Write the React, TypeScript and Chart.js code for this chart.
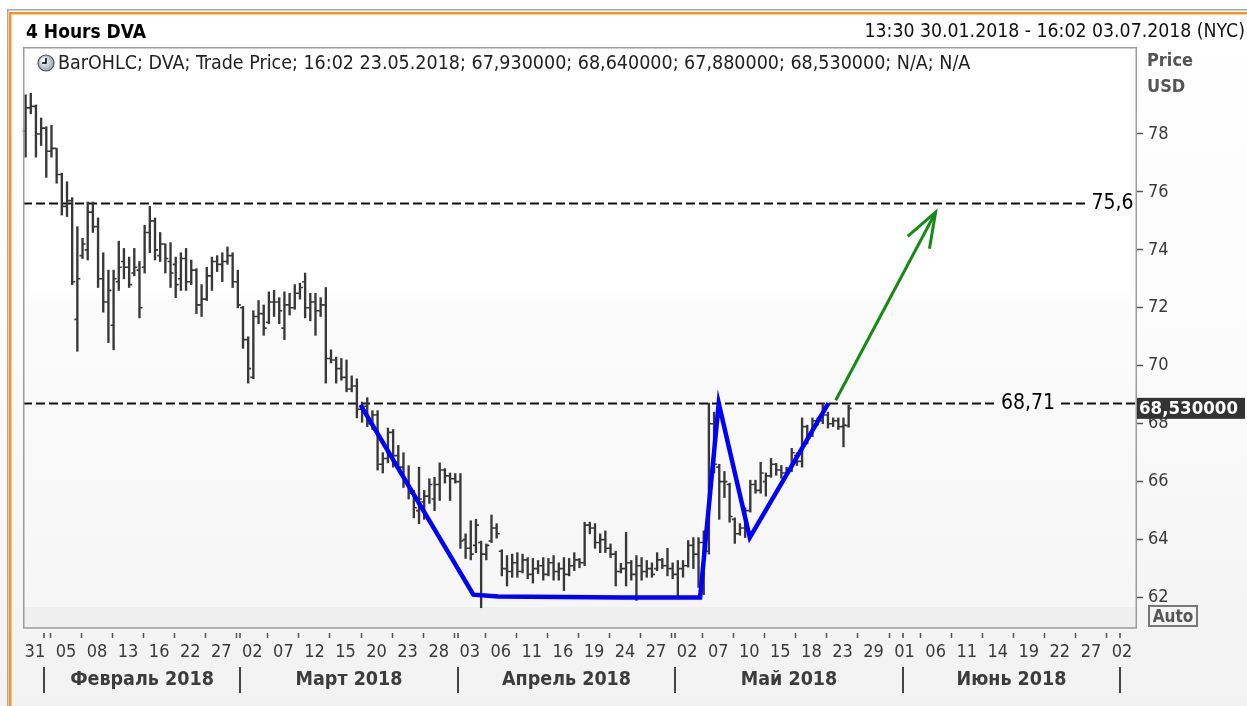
import React, { useEffect, useRef } from "react";
import { Chart, registerables } from "chart.js";

Chart.register(...registerables);

const FONT = '"DejaVu Sans Condensed", "DejaVu Sans", sans-serif';

// ---------- data ----------
const tradingDays = [
  "30.01.2018", "31.01.2018",
  "01.02.2018", "02.02.2018", "05.02.2018", "06.02.2018", "07.02.2018", "08.02.2018", "09.02.2018",
  "12.02.2018", "13.02.2018", "14.02.2018", "15.02.2018", "16.02.2018", "20.02.2018", "21.02.2018",
  "22.02.2018", "23.02.2018", "26.02.2018", "27.02.2018", "28.02.2018",
  "01.03.2018", "02.03.2018", "05.03.2018", "06.03.2018", "07.03.2018", "08.03.2018", "09.03.2018",
  "12.03.2018", "13.03.2018", "14.03.2018", "15.03.2018", "16.03.2018", "19.03.2018", "20.03.2018",
  "21.03.2018", "22.03.2018", "23.03.2018", "26.03.2018", "27.03.2018", "28.03.2018", "29.03.2018",
  "02.04.2018", "03.04.2018", "04.04.2018", "05.04.2018", "06.04.2018", "09.04.2018", "10.04.2018",
  "11.04.2018", "12.04.2018", "13.04.2018", "16.04.2018", "17.04.2018", "18.04.2018", "19.04.2018",
  "20.04.2018", "23.04.2018", "24.04.2018", "25.04.2018", "26.04.2018", "27.04.2018", "30.04.2018",
  "01.05.2018", "02.05.2018", "03.05.2018", "04.05.2018", "07.05.2018", "08.05.2018", "09.05.2018",
  "10.05.2018", "11.05.2018", "14.05.2018", "15.05.2018", "16.05.2018", "17.05.2018", "18.05.2018",
  "21.05.2018", "22.05.2018", "23.05.2018", "24.05.2018", "25.05.2018", "29.05.2018", "30.05.2018",
  "31.05.2018",
  "01.06.2018", "04.06.2018", "05.06.2018", "06.06.2018", "07.06.2018", "08.06.2018", "11.06.2018",
  "12.06.2018", "13.06.2018", "14.06.2018", "15.06.2018", "18.06.2018", "19.06.2018", "20.06.2018",
  "21.06.2018", "22.06.2018", "25.06.2018", "26.06.2018", "27.06.2018", "28.06.2018", "29.06.2018",
  "02.07.2018", "03.07.2018",
];
const sessionEnds = ["13:30", "16:02"];

const barOpen = [
  78.1, 78.9, 78.95, 78.0, 78.2, 77.4, 77.5, 76.6, 75.5, 75.7,
  71.6, 73.8, 74.0, 75.3, 74.8, 73.0, 72.2, 71.4, 72.9, 73.6,
  73.4, 73.2, 73.3, 73.4, 74.6, 75.0, 73.8, 74.2, 73.6, 73.5,
  73.0, 73.7, 72.9, 73.3, 72.1, 72.3, 73.1, 73.6, 73.5, 73.6,
  73.8, 72.9, 72.0, 70.9, 69.6, 71.7, 71.8, 71.5, 72.2, 72.2,
  71.3, 72.1, 72.0, 72.5, 72.9, 72.0, 72.2, 71.9, 72.1, 70.25,
  70.2, 69.9, 69.6, 69.2, 69.3, 68.5, 68.6, 68.0, 68.3, 66.6,
  66.8, 67.7, 66.9, 66.5, 66.0, 65.6, 65.0, 65.3, 65.5, 65.4,
  65.9, 66.4, 66.2, 66.1, 66.0, 64.0, 63.7, 63.8, 63.9, 63.5,
  63.95, 64.4, 63.6, 63.0, 62.9, 63.2, 62.9, 63.3, 62.8, 63.0,
  63.1, 62.8, 63.2, 62.9, 63.0, 62.8, 63.1, 63.3, 63.2, 64.5,
  64.4, 63.9, 64.0, 63.7, 63.5, 62.9, 63.0, 63.2, 62.8, 63.1,
  62.9, 63.0, 63.0, 63.3, 63.1, 63.0, 62.8, 63.0, 63.1, 63.8,
  63.5, 63.9, 63.6, 68.0, 66.5, 66.0, 65.9, 64.7, 64.2, 64.4,
  65.0, 65.9, 65.7, 66.0, 66.2, 66.6, 66.4, 66.3, 66.4, 66.9,
  66.7, 67.9, 67.6, 68.1, 68.1, 68.3, 68.0, 68.1, 67.9, 67.93,
];
const barHigh = [
  79.35, 79.4, 79.0, 78.55, 78.25, 78.3, 77.5, 76.65, 76.35, 75.8,
  74.8, 74.4, 75.65, 75.65, 75.1, 73.9, 73.3, 73.3, 74.3, 74.05,
  73.75, 74.05, 73.6, 74.85, 75.5, 75.1, 74.6, 74.2, 74.25, 73.75,
  73.9, 74.05, 73.65, 73.35, 72.8, 73.4, 73.75, 73.8, 73.9, 74.1,
  73.9, 73.3, 72.05, 71.0, 71.9, 72.25, 72.1, 72.55, 72.6, 72.35,
  72.55, 72.5, 72.8, 72.85, 73.2, 72.5, 72.5, 72.35, 72.7, 70.55,
  70.3, 70.25, 70.2, 69.65, 69.55, 68.75, 68.9, 68.45, 68.45, 67.0,
  67.85, 67.8, 67.25, 67.0, 66.55, 65.7, 66.5, 65.7, 66.1, 66.15,
  66.65, 66.45, 66.3, 66.28, 66.28, 64.2, 64.65, 64.7, 63.95, 63.85,
  64.85, 64.55, 63.65, 63.45, 63.5, 63.55, 63.5, 63.38, 63.35, 63.28,
  63.38, 63.35, 63.45, 63.2, 63.38, 63.35, 63.55, 63.35, 64.6, 64.6,
  64.55, 64.2, 64.3, 63.85, 63.6, 63.18, 64.25, 63.28, 63.45, 63.38,
  63.28, 63.2, 63.55, 63.35, 63.7, 63.2, 63.28, 63.28, 63.97, 64.07,
  64.07, 64.3, 68.71, 68.4, 66.6, 66.35, 65.95, 64.75, 64.55, 65.1,
  66.05, 66.05, 66.67, 66.3, 66.8, 66.63, 66.56, 66.5, 67.15, 67.0,
  68.2, 67.95, 68.2, 68.2, 68.7, 68.4, 68.2, 68.2, 68.2, 68.64,
];
const barLow = [
  77.2, 78.7, 77.2, 77.6, 76.5, 77.2, 76.3, 75.2, 75.15, 72.8,
  70.5, 73.7, 73.65, 74.6, 72.7, 71.85, 70.8, 70.55, 72.6, 73.0,
  72.7, 73.1, 71.65, 73.2, 73.9, 73.65, 73.6, 73.2, 72.7, 72.35,
  72.6, 72.6, 72.8, 71.8, 71.7, 72.25, 72.6, 73.25, 72.9, 73.5,
  72.7, 72.0, 70.6, 69.4, 69.55, 71.45, 71.05, 71.45, 71.7, 71.45,
  70.9, 71.75, 71.95, 72.3, 71.65, 71.55, 71.05, 71.7, 69.4, 70.1,
  69.4, 69.5, 69.1, 69.1, 68.2, 68.05, 67.9, 67.8, 66.4, 66.3,
  66.65, 66.5, 66.4, 65.8, 65.4, 64.75, 64.55, 64.7, 65.25, 65.0,
  65.35, 65.95, 65.35, 65.95, 63.7, 63.35, 63.3, 63.55, 61.65, 63.3,
  63.9, 64.05, 62.75, 62.4, 62.7, 62.7, 62.85, 62.65, 62.5, 62.83,
  62.6, 62.75, 62.6, 62.6, 62.24, 62.75, 62.93, 63.03, 63.1, 64.2,
  63.7, 63.55, 63.55, 63.38, 62.4, 62.85, 62.4, 62.6, 61.9, 62.6,
  62.7, 62.7, 62.93, 63.0, 62.75, 62.65, 61.97, 62.7, 63.05, 63.0,
  62.35, 62.1, 63.5, 66.3, 64.7, 65.45, 64.6, 63.87, 64.15, 64.07,
  64.95, 65.6, 65.6, 65.5, 66.15, 66.22, 66.12, 66.22, 66.35, 66.56,
  66.5, 67.3, 67.55, 67.95, 68.0, 67.85, 67.9, 67.8, 67.2, 67.88,
];
const barClose = [
  78.9, 78.95, 78.0, 78.2, 77.4, 77.5, 76.6, 75.5, 75.7, 72.9,
  73.0, 74.2, 75.3, 74.8, 73.0, 72.2, 72.6, 73.0, 73.4, 73.4,
  72.8, 73.4, 72.0, 74.6, 75.0, 74.0, 74.2, 73.7, 73.2, 72.8,
  73.7, 72.9, 73.3, 72.1, 72.3, 73.1, 73.6, 73.5, 73.6, 73.8,
  72.9, 72.1, 70.9, 69.9, 71.7, 71.8, 71.3, 72.2, 72.2, 71.9,
  72.1, 72.0, 72.5, 72.7, 72.0, 72.2, 71.9, 72.1, 70.25, 70.2,
  69.9, 69.6, 69.2, 69.3, 68.5, 68.6, 68.0, 68.3, 66.6, 66.8,
  67.7, 66.9, 66.5, 66.0, 65.6, 65.1, 65.4, 65.5, 65.9, 65.9,
  66.4, 66.2, 66.1, 66.0, 63.95, 63.7, 63.5, 64.5, 63.5, 63.8,
  64.4, 64.2, 63.0, 62.9, 63.2, 62.9, 63.3, 62.8, 63.0, 63.1,
  62.8, 63.2, 62.9, 63.0, 62.8, 63.1, 63.3, 63.2, 64.5, 64.4,
  63.9, 64.0, 63.7, 63.5, 62.9, 63.0, 63.2, 62.8, 63.1, 62.9,
  63.0, 62.8, 63.3, 63.1, 63.0, 62.8, 63.0, 63.1, 63.8, 63.5,
  63.9, 63.6, 68.0, 66.6, 66.0, 66.0, 64.8, 64.2, 64.4, 65.0,
  65.9, 65.7, 66.3, 66.2, 66.6, 66.4, 66.3, 66.4, 67.0, 66.7,
  67.9, 67.5, 68.1, 68.1, 68.3, 68.0, 68.1, 67.9, 67.95, 68.53,
];

const xTickDates = [
  "31.01.2018", "05.02.2018", "08.02.2018", "13.02.2018", "16.02.2018", "22.02.2018", "27.02.2018",
  "02.03.2018", "07.03.2018", "12.03.2018", "15.03.2018", "20.03.2018", "23.03.2018", "28.03.2018",
  "03.04.2018", "06.04.2018", "11.04.2018", "16.04.2018", "19.04.2018", "24.04.2018", "27.04.2018",
  "02.05.2018", "07.05.2018", "10.05.2018", "15.05.2018", "18.05.2018", "23.05.2018", "29.05.2018",
  "01.06.2018", "06.06.2018", "11.06.2018", "14.06.2018", "19.06.2018", "22.06.2018", "27.06.2018",
  "02.07.2018",
];
const monthNames = ["Февраль 2018", "Март 2018", "Апрель 2018", "Май 2018", "Июнь 2018"];
const monthStarts = ["01.02.2018", "01.03.2018", "02.04.2018", "01.05.2018", "01.06.2018", "02.07.2018"];
const yTicks = [62, 64, 66, 68, 70, 72, 74, 76, 78];

const levelPrices = [75.6, 68.71];
// pattern polyline (trading-day position, price)
const patternDays = [32.6, 43.5, 45.9, 57.9, 65.4, 67.2, 70.2, 77.8];
const patternPrices = [68.65, 62.1, 62.04, 62.0, 62.0, 68.71, 64.07, 68.71];
// target arrow
const targetDays = [78.5, 88.15];
const targetPrices = [68.81, 75.3];

// ---------- style / layout ----------
const SESSION_POS = [0.25, 0.75];
const LEVEL_LABEL_AT = [105.24, 97.07];
const X_MIN = 0;
const X_MAX = 107.6;
const Y_MIN = 60.95;
const Y_MAX = 81.0;

const dayIdx = (d: string) => tradingDays.indexOf(d);
const barX = (k: number) => Math.floor(k / 2) + SESSION_POS[k % 2];
const fmt6 = (v: number) => v.toFixed(6).replace(".", ",");
const last = barClose.length - 1;

const decoPlugin = {
  id: "deco",
  beforeDraw(chart: any) {
    const { ctx, chartArea: a, width, height } = chart;
    ctx.save();
    let g = ctx.createLinearGradient(0, 0, 0, height);
    g.addColorStop(0, "#ffffff");
    g.addColorStop(0.45, "#fcfcfc");
    g.addColorStop(1, "#f2f2f2");
    ctx.fillStyle = g;
    ctx.fillRect(0, 0, width, height);
    ctx.fillStyle = "#ffffff";
    ctx.fillRect(0, 0, width, a.top);
    // outer frame
    ctx.fillStyle = "#a8a8a8";
    ctx.fillRect(7, 9, width - 7, 1.5);
    ctx.fillRect(7, 9, 1.5, height - 9);
    ctx.fillStyle = "#f7931e";
    ctx.fillRect(9, 12, width - 9, 2.5);
    ctx.fillRect(9, 12, 2.5, height - 12);
    // plot background
    g = ctx.createLinearGradient(0, a.top, 0, a.bottom);
    g.addColorStop(0, "#ffffff");
    g.addColorStop(0.42, "#ffffff");
    g.addColorStop(0.44, "#fbfbfb");
    g.addColorStop(1, "#f6f6f6");
    ctx.fillStyle = g;
    ctx.fillRect(a.left, a.top, a.right - a.left, a.bottom - a.top);
    ctx.fillStyle = "#efefef";
    ctx.fillRect(a.left, a.bottom - 21, a.right - a.left, 21);
    ctx.restore();
  },
  beforeDatasetsDraw(chart: any) {
    const { ctx, chartArea: a, scales } = chart;
    const xs = scales.x, ys = scales.y;
    ctx.save();
    ctx.font = `21px ${FONT}`;
    ctx.textBaseline = "middle";
    ctx.textAlign = "center";
    levelPrices.forEach((p, i) => {
      const y = Math.round(ys.getPixelForValue(p)) + 0.5;
      const label = String(p).replace(".", ",");
      const w = ctx.measureText(label).width;
      const cx = xs.getPixelForValue(LEVEL_LABEL_AT[i]);
      const x0 = cx - w / 2 - 6;
      const x1 = cx + w / 2 + 6;
      ctx.strokeStyle = "#111";
      ctx.lineWidth = 2;
      ctx.setLineDash([9, 4]);
      ctx.beginPath();
      ctx.moveTo(a.left, y);
      ctx.lineTo(x0, y);
      if (x1 < a.right) {
        ctx.moveTo(x1, y);
        ctx.lineTo(a.right, y);
      }
      ctx.stroke();
      ctx.setLineDash([]);
      ctx.fillStyle = "#000";
      ctx.fillText(label, cx, y);
    });
    ctx.restore();
  },
  afterDatasetDraw(chart: any, args: any) {
    if (args.index !== 0) return;
    const { ctx, scales } = chart;
    const xs = scales.x, ys = scales.y;
    ctx.save();
    ctx.strokeStyle = "#383838";
    ctx.lineWidth = 1.6;
    ctx.beginPath();
    for (let k = 0; k < barOpen.length; k++) {
      const px = xs.getPixelForValue(barX(k));
      const po = ys.getPixelForValue(barOpen[k]);
      const pc = ys.getPixelForValue(barClose[k]);
      ctx.moveTo(px - 3, po);
      ctx.lineTo(px, po);
      ctx.moveTo(px, pc);
      ctx.lineTo(px + 3, pc);
    }
    ctx.stroke();
    ctx.restore();
  },
  afterDatasetsDraw(chart: any) {
    const { ctx, chartArea: a, scales, width } = chart;
    const xs = scales.x, ys = scales.y;
    ctx.save();
    // arrow head
    const tx = xs.getPixelForValue(targetDays[1]);
    const ty = ys.getPixelForValue(targetPrices[1]);
    const sx = xs.getPixelForValue(targetDays[0]);
    const sy = ys.getPixelForValue(targetPrices[0]);
    const ang = Math.atan2(sy - ty, sx - tx);
    const L = 37;
    ctx.strokeStyle = "#168a16";
    ctx.lineWidth = 3;
    ctx.lineJoin = "miter";
    ctx.beginPath();
    ctx.moveTo(tx + L * Math.cos(ang + 0.37), ty + L * Math.sin(ang + 0.37));
    ctx.lineTo(tx, ty);
    ctx.lineTo(tx + L * Math.cos(ang - 0.32), ty + L * Math.sin(ang - 0.32));
    ctx.stroke();

    // plot border
    ctx.strokeStyle = "#9c9c9c";
    ctx.lineWidth = 1.5;
    ctx.strokeRect(a.left + 0.75, a.top + 0.75, a.right - a.left - 1.5, a.bottom - a.top - 0.75);

    // month row
    ctx.fillStyle = "#3c3c3c";
    ctx.strokeStyle = "#444";
    ctx.font = `bold 19.5px ${FONT}`;
    ctx.textAlign = "center";
    ctx.textBaseline = "middle";
    const bx = monthStarts.map((d) => Math.round(xs.getPixelForValue(dayIdx(d))));
    bx.forEach((x) => {
      ctx.lineWidth = 2;
      ctx.beginPath();
      ctx.moveTo(x, 667);
      ctx.lineTo(x, 693);
      ctx.stroke();
      ctx.lineWidth = 1.5;
      ctx.beginPath();
      ctx.moveTo(x, a.bottom + 5);
      ctx.lineTo(x, a.bottom + 10);
      ctx.stroke();
    });
    monthNames.forEach((m, i) => {
      ctx.fillText(m, (bx[i] + bx[i + 1]) / 2, 680);
    });

    // last price tag
    const py = ys.getPixelForValue(barClose[last]);
    ctx.fillStyle = "#333333";
    ctx.fillRect(a.right, py - 10.5, width - 2 - a.right, 21);
    ctx.fillStyle = "#ffffff";
    ctx.font = `bold 18.5px ${FONT}`;
    ctx.textAlign = "left";
    ctx.fillText(fmt6(barClose[last]), a.right + 2, py + 0.5);

    // clock icon
    const cx = 46, cy = 63, r = 8;
    const rg = ctx.createRadialGradient(cx - 3, cy - 3, 1, cx, cy, r);
    rg.addColorStop(0, "#ffffff");
    rg.addColorStop(1, "#9aa6b4");
    ctx.fillStyle = rg;
    ctx.beginPath();
    ctx.arc(cx, cy, r, 0, Math.PI * 2);
    ctx.fill();
    ctx.strokeStyle = "#4a5563";
    ctx.lineWidth = 1.2;
    ctx.stroke();
    ctx.strokeStyle = "#000";
    ctx.lineWidth = 1.5;
    ctx.beginPath();
    ctx.moveTo(cx, cy - 5);
    ctx.lineTo(cx, cy);
    ctx.lineTo(cx - 4, cy);
    ctx.stroke();
    ctx.restore();
  },
};

export default function App() {
  const ref = useRef<HTMLCanvasElement | null>(null);

  useEffect(() => {
    if (!ref.current) return;
    const chart = new Chart(ref.current, {
      data: {
        datasets: [
          {
            type: "bar",
            label: "DVA",
            data: barHigh.map((h, k) => ({ x: barX(k), y: [barLow[k], h] })) as any,
            backgroundColor: "#383838",
            borderWidth: 0,
            barThickness: 1.7,
            order: 2,
          } as any,
          {
            type: "line",
            label: "pattern",
            data: patternDays.map((d, i) => ({ x: d, y: patternPrices[i] })),
            borderColor: "#0000ff",
            borderWidth: 4.5,
            pointRadius: 0,
            tension: 0,
            borderJoinStyle: "miter",
            order: 1,
          } as any,
          {
            type: "line",
            label: "target",
            data: targetDays.map((d, i) => ({ x: d, y: targetPrices[i] })),
            borderColor: "#168a16",
            borderWidth: 3,
            pointRadius: 0,
            tension: 0,
            order: 1,
          } as any,
        ],
      },
      options: {
        animation: false,
        responsive: false,
        devicePixelRatio: 1,
        layout: { padding: { left: 23, top: 47, right: 0, bottom: 0 } },
        plugins: {
          legend: { display: false },
          tooltip: { enabled: false },
        },
        scales: {
          x: {
            type: "linear",
            min: X_MIN,
            max: X_MAX,
            offset: false,
            position: "bottom",
            grid: {
              display: true,
              drawOnChartArea: false,
              drawTicks: true,
              tickLength: 10,
              tickColor: "#555",
              tickWidth: 1.5,
              tickBorderDash: [5, 5],
              tickBorderDashOffset: 5,
            },
            border: { display: false },
            ticks: {
              autoSkip: false,
              maxRotation: 0,
              color: "#3a3a3a",
              font: { family: FONT, size: 18 },
              padding: 4,
              callback: (_v: any, i: number) => (xTickDates[i] || "").slice(0, 2),
            },
            afterBuildTicks: (s: any) => {
              s.ticks = xTickDates.map((d) => ({ value: dayIdx(d) + 0.15 }));
            },
            afterFit: (s: any) => {
              s.height = 78;
            },
          },
          y: {
            type: "linear",
            position: "right",
            min: Y_MIN,
            max: Y_MAX,
            grid: { drawOnChartArea: false, tickLength: 6, tickColor: "#555", tickWidth: 1.5 },
            border: { display: false },
            ticks: {
              color: "#3a3a3a",
              font: { family: FONT, size: 18 },
              padding: 5,
              callback: (v: any) => String(v),
            },
            afterBuildTicks: (s: any) => {
              s.ticks = yTicks.map((v) => ({ value: v }));
            },
            afterFit: (s: any) => {
              s.width = 110;
            },
          },
        },
      } as any,
      plugins: [decoPlugin],
    });
    return () => chart.destroy();
  }, []);

  const legendText = `BarOHLC; DVA; Trade Price; ${sessionEnds[last % 2]} ${tradingDays[last >> 1]}; ${fmt6(
    barOpen[last]
  )}; ${fmt6(barHigh[last])}; ${fmt6(barLow[last])}; ${fmt6(barClose[last])}; N/A; N/A`;
  const rangeText = `${sessionEnds[0]} ${tradingDays[0]} - ${sessionEnds[1]} ${tradingDays[tradingDays.length - 1]} (NYC)`;

  const abs = (o: any): React.CSSProperties => ({ position: "absolute", whiteSpace: "nowrap", ...o });

  return (
    <div style={{ position: "absolute", left: 0, top: 0, width: 1247, height: 706, fontFamily: FONT, overflow: "hidden" }}>
      <canvas ref={ref} width={1247} height={706} style={{ display: "block", width: 1247, height: 706 }} />
      <div style={abs({ left: 26, top: 20, fontSize: 19, lineHeight: "22px", fontWeight: "bold", color: "#000" })}>
        4 Hours DVA
      </div>
      <div style={abs({ right: 2, top: 20, fontSize: 19.3, lineHeight: "22px", color: "#111" })}>{rangeText}</div>
      <div style={abs({ left: 58, top: 52, fontSize: 19.5, lineHeight: "22px", color: "#222" })}>{legendText}</div>
      <div style={abs({ left: 1147, top: 49, fontSize: 18, lineHeight: "22px", fontWeight: "bold", color: "#555" })}>
        Price
      </div>
      <div style={abs({ left: 1147, top: 75, fontSize: 18, lineHeight: "22px", fontWeight: "bold", color: "#555" })}>
        USD
      </div>
      <div
        style={abs({
          left: 1148,
          top: 605,
          width: 46,
          height: 18,
          border: "2px solid #777",
          fontSize: 17,
          lineHeight: "18px",
          fontWeight: "bold",
          color: "#555",
          textAlign: "center",
        })}
      >
        Auto
      </div>
    </div>
  );
}
